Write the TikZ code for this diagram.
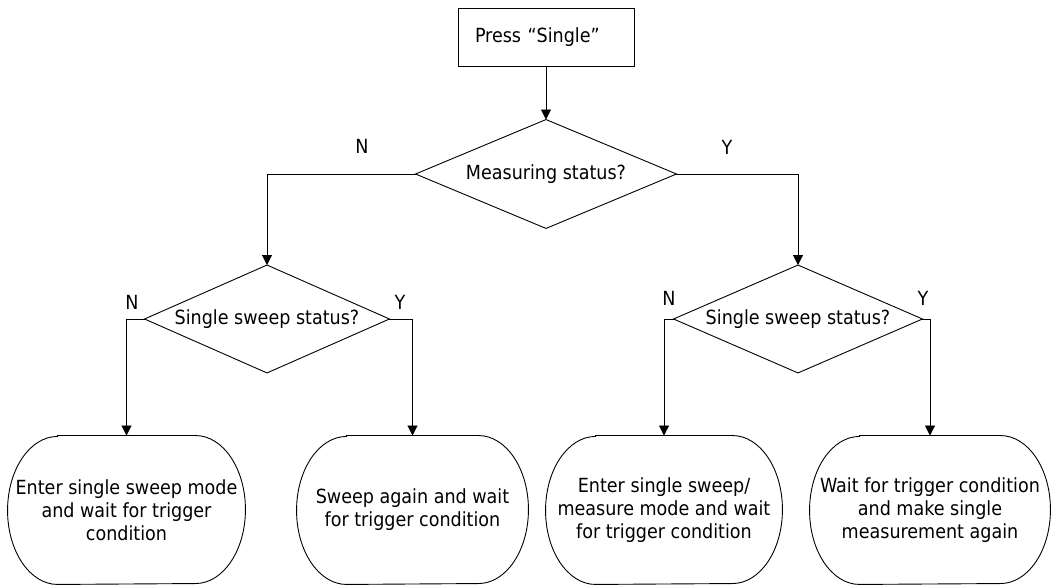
\documentclass[tikz,border=0pt]{standalone}
\usepackage{fontspec}
\setmainfont{DejaVu Sans Condensed}
\usetikzlibrary{arrows.meta,calc}
\begin{document}
\begin{tikzpicture}[x=1pt,y=1pt,
  font=\fontsize{19.5}{23}\selectfont,
  line width=0.9pt,
  arr/.style={-{Triangle[length=10pt,width=10pt]}},
  boxnode/.style={draw,rectangle,minimum height=58pt,inner xsep=17pt,text width=142pt,align=left},
  decision/.style={rectangle,inner sep=0pt,align=center},
  endnode/.style={minimum height=148pt,inner sep=0pt,align=center},
  lbl/.style={inner sep=0pt}]
\useasboundingbox (0,0) rectangle (1055,586);

\node[boxnode] (start) at (546,549) {Press “Single”};
\node[decision,minimum width=260pt,minimum height=108pt] (d0) at (546,412) {Measuring status?};
\node[decision,minimum width=244pt,minimum height=107pt] (d1) at (267,267) {Single sweep status?};
\node[decision,minimum width=248pt,minimum height=107pt] (d2) at (798,267) {Single sweep status?};
\foreach \n in {d0,d1,d2}{
  \draw (\n.north) -- (\n.east) -- (\n.south) -- (\n.west) -- cycle;
}

\node[endnode,minimum width=237pt] (e1) at (126.5,76) {Enter single sweep mode\\and wait for trigger\\condition};
\node[endnode,minimum width=231pt] (e2) at (412.5,76) {Sweep again and wait\\for trigger condition};
\node[endnode,minimum width=236pt] (e3) at (664,76) {Enter single sweep/\\measure mode and wait\\for trigger condition};
\node[endnode,minimum width=240pt] (e4) at (930,76) {Wait for trigger condition\\and make single\\measurement again};

\foreach \n in {e1,e2,e3,e4}{
  \draw ($(\n.north west)+(50,0)$) -- ($(\n.north east)+(-50,0)$)
    arc[start angle=90,end angle=0,x radius=50pt,y radius=74pt]
    arc[start angle=0,end angle=-90,x radius=50pt,y radius=74pt]
    -- ($(\n.south west)+(50,0)$)
    arc[start angle=270,end angle=180,x radius=50pt,y radius=74pt]
    arc[start angle=180,end angle=90,x radius=50pt,y radius=74pt] -- cycle;
}

\draw[arr] (start.south) -- (d0.north);
\draw[arr] (d0.west) -| (d1.north);
\draw[arr] (d0.east) -| (d2.north);
\draw[arr] (d1.west) -| (e1.north);
\draw[arr] (d1.east) -| (e2.north);
\draw[arr] (d2.west) -| (e3.north);
\draw[arr] (d2.east) -| (e4.north);

\node[lbl] (n0) at (362,440) {N};
\node[lbl] (y0) at (727,439) {Y};
\node[lbl] (n1) at (132,284) {N};
\node[lbl] (y1) at (400,284) {Y};
\node[lbl] (n2) at (669,288) {N};
\node[lbl] (y2) at (923,288) {Y};
\end{tikzpicture}
\end{document}
